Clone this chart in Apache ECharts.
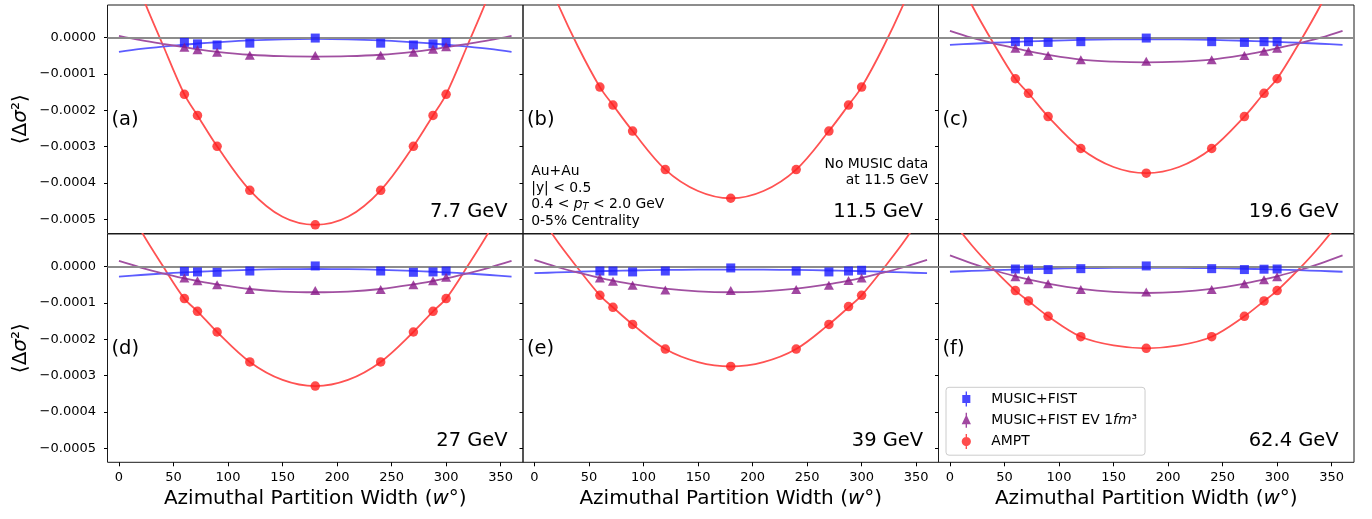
<!DOCTYPE html>
<html><head><meta charset="utf-8">
<script src="https://cdn.jsdelivr.net/npm/echarts@6/dist/echarts.min.js"></script>
<style>html,body{margin:0;padding:0;background:#fff}#c{width:1372px;height:519px}</style>
</head><body><div id="c"></div>
<script>
// ---------- data ----------
const pointX = [60, 72, 90, 120, 180, 240, 270, 288, 300];
const curveX = [0, 20, 40, 60, 72, 90, 120, 150, 180, 210, 240, 270, 288, 300, 320, 340, 360];
const xTicks = [0, 50, 100, 150, 200, 250, 300, 350];
const yTicks = [0, -1e-4, -2e-4, -3e-4, -4e-4, -5e-4];
const panelLabels = ['(a)', '(b)', '(c)', '(d)', '(e)', '(f)'];
const energies = ['7.7 GeV', '11.5 GeV', '19.6 GeV', '27 GeV', '39 GeV', '62.4 GeV'];
const seriesNames = ['MUSIC+FIST', 'MUSIC+FIST EV 1fm³', 'AMPT'];

// (a) 7.7 GeV
const musicPts_a = [-0.13e-4, -0.17e-4, -0.20e-4, -0.15e-4, -0.01e-4, -0.15e-4, -0.20e-4, -0.17e-4, -0.13e-4];
const evPts_a = [-0.26e-4, -0.33e-4, -0.40e-4, -0.48e-4, -0.49e-4, -0.48e-4, -0.40e-4, -0.32e-4, -0.25e-4];
const amptPts_a = [-1.56e-4, -2.14e-4, -2.99e-4, -4.20e-4, -5.15e-4, -4.20e-4, -2.99e-4, -2.14e-4, -1.56e-4];
const musicFit_a = [-0.39e-4, -0.31e-4, -0.245e-4, -0.19e-4, -0.16e-4, -0.125e-4, -0.075e-4, -0.045e-4, -0.035e-4, -0.045e-4, -0.075e-4, -0.125e-4, -0.16e-4, -0.19e-4, -0.245e-4, -0.31e-4, -0.39e-4];
const evFit_a = [0.05e-4, -0.07e-4, -0.17e-4, -0.26e-4, -0.32e-4, -0.39e-4, -0.47e-4, -0.51e-4, -0.52e-4, -0.51e-4, -0.47e-4, -0.39e-4, -0.32e-4, -0.26e-4, -0.17e-4, -0.07e-4, 0.05e-4];
const amptFit_a = [2.95e-4, 1.25e-4, -0.18e-4, -1.56e-4, -2.14e-4, -2.99e-4, -4.20e-4, -4.93e-4, -5.15e-4, -4.93e-4, -4.20e-4, -2.99e-4, -2.14e-4, -1.56e-4, -0.18e-4, 1.25e-4, 2.95e-4];

// (b) 11.5 GeV (AMPT only)
const amptPts_b = [-1.36e-4, -1.855e-4, -2.57e-4, -3.63e-4, -4.42e-4, -3.63e-4, -2.57e-4, -1.855e-4, -1.36e-4];
const amptFit_b = [2.48e-4, 1.03e-4, -0.25e-4, -1.36e-4, -1.855e-4, -2.57e-4, -3.63e-4, -4.22e-4, -4.42e-4, -4.22e-4, -3.63e-4, -2.57e-4, -1.855e-4, -1.36e-4, -0.25e-4, 1.03e-4, 2.48e-4];

// (c) 19.6 GeV
const musicPts_c = [-0.11e-4, -0.11e-4, -0.13e-4, -0.11e-4, -0.01e-4, -0.11e-4, -0.13e-4, -0.11e-4, -0.11e-4];
const evPts_c = [-0.29e-4, -0.375e-4, -0.49e-4, -0.61e-4, -0.65e-4, -0.61e-4, -0.49e-4, -0.375e-4, -0.29e-4];
const amptPts_c = [-1.13e-4, -1.53e-4, -2.17e-4, -3.05e-4, -3.73e-4, -3.05e-4, -2.17e-4, -1.53e-4, -1.13e-4];
const musicFit_c = [-0.20e-4, -0.167e-4, -0.139e-4, -0.114e-4, -0.101e-4, -0.084e-4, -0.062e-4, -0.049e-4, -0.045e-4, -0.049e-4, -0.062e-4, -0.084e-4, -0.101e-4, -0.114e-4, -0.139e-4, -0.167e-4, -0.20e-4];
const evFit_c = [0.19e-4, 0.0, -0.155e-4, -0.29e-4, -0.37e-4, -0.475e-4, -0.605e-4, -0.66e-4, -0.68e-4, -0.66e-4, -0.605e-4, -0.475e-4, -0.37e-4, -0.29e-4, -0.155e-4, 0.0, 0.19e-4];
const amptFit_c = [2.13e-4, 0.90e-4, -0.16e-4, -1.13e-4, -1.53e-4, -2.17e-4, -3.05e-4, -3.56e-4, -3.73e-4, -3.56e-4, -3.05e-4, -2.17e-4, -1.53e-4, -1.13e-4, -0.16e-4, 0.90e-4, 2.13e-4];

// (d) 27 GeV
const musicPts_d = [-0.13e-4, -0.145e-4, -0.155e-4, -0.12e-4, 0.02e-4, -0.12e-4, -0.155e-4, -0.145e-4, -0.12e-4];
const evPts_d = [-0.31e-4, -0.39e-4, -0.50e-4, -0.63e-4, -0.66e-4, -0.63e-4, -0.50e-4, -0.39e-4, -0.29e-4];
const amptPts_d = [-0.88e-4, -1.23e-4, -1.80e-4, -2.625e-4, -3.29e-4, -2.625e-4, -1.80e-4, -1.23e-4, -0.88e-4];
const musicFit_d = [-0.275e-4, -0.23e-4, -0.19e-4, -0.157e-4, -0.14e-4, -0.117e-4, -0.087e-4, -0.07e-4, -0.064e-4, -0.07e-4, -0.087e-4, -0.117e-4, -0.14e-4, -0.157e-4, -0.19e-4, -0.23e-4, -0.275e-4];
const evFit_d = [0.157e-4, -0.024e-4, -0.183e-4, -0.322e-4, -0.395e-4, -0.49e-4, -0.615e-4, -0.685e-4, -0.705e-4, -0.685e-4, -0.615e-4, -0.49e-4, -0.395e-4, -0.322e-4, -0.183e-4, -0.024e-4, 0.157e-4];
const amptFit_d = [2.14e-4, 1.0e-4, 0.03e-4, -0.88e-4, -1.23e-4, -1.80e-4, -2.625e-4, -3.12e-4, -3.29e-4, -3.12e-4, -2.625e-4, -1.80e-4, -1.23e-4, -0.88e-4, 0.03e-4, 1.0e-4, 2.14e-4];

// (e) 39 GeV
const musicPts_e = [-0.12e-4, -0.12e-4, -0.145e-4, -0.12e-4, -0.035e-4, -0.12e-4, -0.145e-4, -0.12e-4, -0.10e-4];
const evPts_e = [-0.31e-4, -0.40e-4, -0.51e-4, -0.64e-4, -0.66e-4, -0.63e-4, -0.51e-4, -0.38e-4, -0.31e-4];
const amptPts_e = [-0.79e-4, -1.12e-4, -1.59e-4, -2.27e-4, -2.75e-4, -2.27e-4, -1.59e-4, -1.10e-4, -0.79e-4];
const musicFit_e = [-0.18e-4, -0.159e-4, -0.14e-4, -0.124e-4, -0.116e-4, -0.105e-4, -0.091e-4, -0.083e-4, -0.08e-4, -0.083e-4, -0.091e-4, -0.105e-4, -0.116e-4, -0.124e-4, -0.14e-4, -0.159e-4, -0.18e-4];
const evFit_e = [0.185e-4, -0.002e-4, -0.167e-4, -0.31e-4, -0.385e-4, -0.482e-4, -0.606e-4, -0.68e-4, -0.705e-4, -0.68e-4, -0.606e-4, -0.482e-4, -0.385e-4, -0.31e-4, -0.167e-4, -0.002e-4, 0.185e-4];
const amptFit_e = [1.67e-4, 0.74e-4, -0.05e-4, -0.79e-4, -1.12e-4, -1.59e-4, -2.27e-4, -2.63e-4, -2.75e-4, -2.63e-4, -2.27e-4, -1.59e-4, -1.12e-4, -0.79e-4, -0.05e-4, 0.74e-4, 1.67e-4];

// (f) 62.4 GeV
const musicPts_f = [-0.065e-4, -0.07e-4, -0.08e-4, -0.055e-4, 0.02e-4, -0.055e-4, -0.08e-4, -0.07e-4, -0.065e-4];
const evPts_f = [-0.28e-4, -0.36e-4, -0.47e-4, -0.63e-4, -0.70e-4, -0.63e-4, -0.47e-4, -0.36e-4, -0.28e-4];
const amptPts_f = [-0.66e-4, -0.945e-4, -1.367e-4, -1.93e-4, -2.25e-4, -1.93e-4, -1.367e-4, -0.945e-4, -0.66e-4];
const musicFit_f = [-0.14e-4, -0.117e-4, -0.097e-4, -0.079e-4, -0.07e-4, -0.058e-4, -0.042e-4, -0.033e-4, -0.03e-4, -0.033e-4, -0.042e-4, -0.058e-4, -0.07e-4, -0.079e-4, -0.097e-4, -0.117e-4, -0.14e-4];
const evFit_f = [0.31e-4, 0.093e-4, -0.099e-4, -0.265e-4, -0.352e-4, -0.466e-4, -0.61e-4, -0.696e-4, -0.725e-4, -0.696e-4, -0.61e-4, -0.466e-4, -0.352e-4, -0.265e-4, -0.099e-4, 0.093e-4, 0.31e-4];
const amptFit_f = [1.35e-4, 0.59e-4, -0.07e-4, -0.66e-4, -0.945e-4, -1.367e-4, -1.93e-4, -2.17e-4, -2.25e-4, -2.17e-4, -1.93e-4, -1.367e-4, -0.945e-4, -0.66e-4, -0.07e-4, 0.59e-4, 1.35e-4];

// ---------- assembly ----------
const panels = [
  {music: musicPts_a, ev: evPts_a, ampt: amptPts_a, musicFit: musicFit_a, evFit: evFit_a, amptFit: amptFit_a},
  {music: null, ev: null, ampt: amptPts_b, musicFit: null, evFit: null, amptFit: amptFit_b},
  {music: musicPts_c, ev: evPts_c, ampt: amptPts_c, musicFit: musicFit_c, evFit: evFit_c, amptFit: amptFit_c},
  {music: musicPts_d, ev: evPts_d, ampt: amptPts_d, musicFit: musicFit_d, evFit: evFit_d, amptFit: amptFit_d},
  {music: musicPts_e, ev: evPts_e, ampt: amptPts_e, musicFit: musicFit_e, evFit: evFit_e, amptFit: amptFit_e},
  {music: musicPts_f, ev: evPts_f, ampt: amptPts_f, musicFit: musicFit_f, evFit: evFit_f, amptFit: amptFit_f}
];

const FONT = 'DejaVu Sans';
const C = {
  blue: '#1a1aff', purple: '#8a1a8a', red: '#ff1f1f',
  blueLine: '#5c5cff', purpleLine: '#a150a1', redLine: '#ff5252',
  zero: '#8c8c8c', spine: '#1a1a1a'
};
const L = { colLeft: [107.5, 523, 938.5], colW: 415.5, rowTop: [5, 234], rowH: [228.5, 228.3] };

const pairs = (xs, ys) => xs.map((x, k) => [x, ys[k]]);
const yFmt = v => (Math.abs(v) < 1e-12 ? '0.0000' : (v < 0 ? '\u2212' : '') + Math.abs(v).toFixed(4));

const grids = [], xAxes = [], yAxes = [], series = [], graphics = [];

panels.forEach((p, i) => {
  const r = Math.floor(i / 3), c = i % 3;
  grids.push({left: L.colLeft[c], top: L.rowTop[r], width: L.colW, height: L.rowH[r],
    show: true, borderColor: C.spine, borderWidth: 1, backgroundColor: 'transparent'});
  xAxes.push({gridIndex: i, type: 'value', min: -10.5, max: 370.5, position: 'bottom',
    axisLine: {show: false, onZero: false}, splitLine: {show: false},
    axisTick: {show: r === 1, customValues: xTicks, length: 4, lineStyle: {color: '#000', width: 1}},
    axisLabel: {show: r === 1, customValues: xTicks, margin: 8.5, fontSize: 13, color: '#000', fontFamily: FONT},
    name: r === 1 ? 'Azimuthal Partition Width ({i|w}°)' : '', nameLocation: 'middle', nameGap: 26,
    nameTextStyle: {fontSize: 20, color: '#000', fontFamily: FONT,
      rich: {i: {fontStyle: 'italic', fontSize: 20, fontFamily: FONT, color: '#000'}}}});
  yAxes.push({gridIndex: i, type: 'value', min: -5.39e-4, max: 0.90e-4, position: 'left',
    axisLine: {show: false, onZero: false}, splitLine: {show: false},
    axisTick: {show: true, customValues: yTicks, length: 3.5, lineStyle: {color: '#000', width: 1}},
    axisLabel: {show: c === 0, customValues: yTicks, margin: 11.5, fontSize: 13, color: '#000', fontFamily: FONT, formatter: yFmt},
    name: c === 0 ? '⟨Δ{i|σ}²⟩' : '', nameLocation: 'middle', nameGap: 77, nameRotate: 90,
    nameTextStyle: {fontSize: 20, color: '#000', fontFamily: FONT,
      rich: {i: {fontStyle: 'italic', fontSize: 20, fontFamily: FONT, color: '#000'}}}});

  const lineBase = {type: 'line', xAxisIndex: i, yAxisIndex: i, showSymbol: false, symbol: 'none',
    smooth: 0.35, silent: true, z: 2, clip: true};
  series.push(Object.assign({}, lineBase, {name: 'ampt-fit-' + i, data: pairs(curveX, p.amptFit),
    lineStyle: {color: C.redLine, width: 1.8},
    markLine: {silent: true, symbol: ['none', 'none'], label: {show: false}, animation: false,
      lineStyle: {color: C.zero, width: 1.8, type: 'solid'}, data: [{yAxis: 0}]}}));
  if (p.musicFit) {
    series.push(Object.assign({}, lineBase, {name: 'music-fit-' + i, data: pairs(curveX, p.musicFit),
      lineStyle: {color: C.blueLine, width: 1.8}}));
    series.push(Object.assign({}, lineBase, {name: 'ev-fit-' + i, data: pairs(curveX, p.evFit),
      lineStyle: {color: C.purpleLine, width: 1.8}}));
    series.push({type: 'scatter', name: seriesNames[0], xAxisIndex: i, yAxisIndex: i, z: 5,
      symbol: 'rect', symbolSize: 9, itemStyle: {color: C.blue}, data: pairs(pointX, p.music)});
    series.push({type: 'scatter', name: seriesNames[1], xAxisIndex: i, yAxisIndex: i, z: 5,
      symbol: 'triangle', symbolSize: [10, 9], itemStyle: {color: C.purple}, data: pairs(pointX, p.ev)});
  }
  series.push({type: 'scatter', name: seriesNames[2], xAxisIndex: i, yAxisIndex: i, z: 6,
    symbol: 'circle', symbolSize: 9.5, itemStyle: {color: C.red}, data: pairs(pointX, p.ampt)});

  // panel letter & energy
  const gl = L.colLeft[c], gr = L.colLeft[c] + L.colW, gt = L.rowTop[r];
  graphics.push({type: 'text', x: gl + 4, y: gt + 114.5, z: 20,
    style: {text: panelLabels[i], fontSize: 19.5, fontFamily: FONT, fill: '#000', align: 'left', verticalAlign: 'middle'}});
  graphics.push({type: 'text', x: gr - 15.3, y: gt + 206.8, z: 20,
    style: {text: energies[i], fontSize: 19.5, fontFamily: FONT, fill: '#000', align: 'right', verticalAlign: 'middle'}});
});

// annotations in panel (b)
const annoLines = ['Au+Au', '|y| < 0.5', '0.4 < {i|p}{sub|T} < 2.0 GeV', '0-5% Centrality'];
const annoY = [171.2, 188.0, 204.6, 221.6];
annoLines.forEach((t, k) => graphics.push({type: 'text', x: 531.2, y: annoY[k], z: 20,
  style: {text: t, fontSize: 13.9, fontFamily: FONT, fill: '#000', align: 'left', verticalAlign: 'middle',
    rich: {i: {fontStyle: 'italic', fontSize: 13.9, fontFamily: FONT, fill: '#000', lineHeight: 16, verticalAlign: 'middle'},
           sub: {fontStyle: 'italic', fontSize: 9.8, fontFamily: FONT, fill: '#000', lineHeight: 9, verticalAlign: 'bottom'}}}}));
const noteLines = ['No MUSIC data', 'at 11.5 GeV'];
const noteY = [164.3, 180.6];
noteLines.forEach((t, k) => graphics.push({type: 'text', x: 928.3, y: noteY[k], z: 20,
  style: {text: t, fontSize: 13.9, fontFamily: FONT, fill: '#000', align: 'right', verticalAlign: 'middle'}}));

const icons = [
  'path://M0,3L7,3L7,10L0,10Z M2.9,0L4.1,0L4.1,13L2.9,13Z',
  'path://M4,1.5L8,10L0,10Z M3.4,0L4.6,0L4.6,13L3.4,13Z',
  'path://M0,6.5A4,4,0,1,1,8,6.5A4,4,0,1,1,0,6.5Z M3.4,0L4.6,0L4.6,13L3.4,13Z'
];

const option = {
  animation: false,
  backgroundColor: '#fff',
  textStyle: {fontFamily: FONT},
  grid: grids, xAxis: xAxes, yAxis: yAxes, series: series, graphic: graphics,
  legend: {
    orient: 'vertical', left: 946, top: 387.3, padding: [4.2, 8, 6.1, 15.7],
    itemWidth: 10, itemHeight: 15, itemGap: 6.3,
    borderColor: '#cccccc', borderWidth: 1, borderRadius: 3, backgroundColor: '#ffffff',
    selectedMode: false,
    data: seriesNames.map((n, k) => ({name: n, icon: icons[k]})),
    formatter: n => '{sp| }' + n.replace('fm', '{i|fm}'),
    textStyle: {fontSize: 13.9, fontFamily: FONT, color: '#000', lineHeight: 15,
      rich: {sp: {width: 15}, i: {fontStyle: 'italic', fontSize: 13.9, fontFamily: FONT, color: '#000'}}}
  }
};

const chart = echarts.init(document.getElementById('c'), null, {renderer: 'canvas'});
chart.setOption(option);
</script>
</body></html>
